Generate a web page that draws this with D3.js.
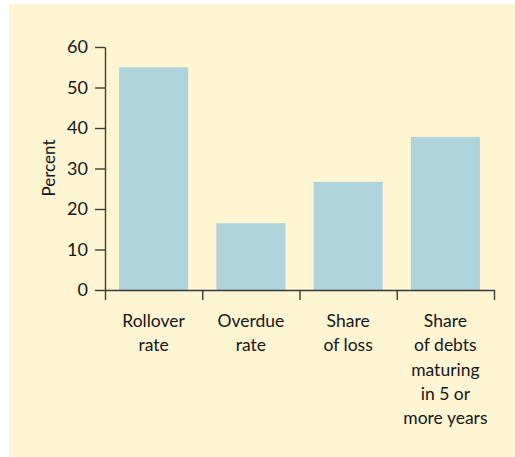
<!DOCTYPE html>
<html>
<head>
<meta charset="utf-8">
<script src="https://cdn.jsdelivr.net/npm/d3@7/dist/d3.min.js"></script>
<style>
  html, body { margin: 0; padding: 0; background: #ffffff; }
  svg { display: block; font-family: Lato, "Noto Sans", sans-serif; }
</style>
</head>
<body>
<div id="chart"></div>
<script>
// chart data
var categories = ['Rollover rate', 'Overdue rate', 'Share of loss', 'Share of debts maturing'];
var categoryLines = [
    ['Rollover', 'rate'],
    ['Overdue', 'rate'],
    ['Share', 'of loss'],
    ['Share', 'of debts', 'maturing', 'in 5 or', 'more years']
];
var values = [55, 16.5, 26.7, 37.8];
var yTicks = [0, 10, 20, 30, 40, 50, 60];

var width = 515, height = 457;
var axisColor = '#3a3a3a';
var textColor = '#161616';
var fontFamily = 'Lato, "Noto Sans", sans-serif';

// plot edges (note: "top" would clash with window.top)
var plotLeft = 105, plotRight = 494, plotTop = 47, plotBottom = 290;

var svg = d3.select('#chart')
    .append('svg')
    .attr('width', width)
    .attr('height', height);

// pale yellow panel
svg.append('rect')
    .attr('x', 9)
    .attr('y', 4)
    .attr('width', width - 9)
    .attr('height', height - 4)
    .style('fill', '#fef5d3');

var x = d3.scaleBand()
    .domain(categories)
    .range([plotLeft, plotRight])
    .paddingInner(0.29)
    .paddingOuter(0.145);

var y = d3.scaleLinear()
    .domain([0, 60])
    .range([plotBottom, plotTop]);

// boundary ticks between categories
var xEdges = d3.scaleLinear()
    .domain([0, categories.length])
    .range([plotLeft, plotRight]);

svg.selectAll('rect.bar')
    .data(values)
    .enter()
    .append('rect')
    .attr('class', 'bar')
    .attr('x', function(d, i) { return x(categories[i]); })
    .attr('y', function(d) { return y(d); })
    .attr('width', x.bandwidth())
    .attr('height', function(d) { return y(0) - y(d); })
    .style('fill', '#aed3da');

// y axis
var yAxis = svg.append('g')
    .attr('transform', 'translate(' + plotLeft + ',0)')
    .call(d3.axisLeft(y).tickValues(yTicks).tickSize(10).tickPadding(7).tickSizeOuter(0));

yAxis.attr('font-family', null).attr('font-size', null);
yAxis.selectAll('text')
    .style('font-family', fontFamily)
    .style('font-size', '18px')
    .style('fill', textColor);

// x axis with ticks on the category edges
svg.append('g')
    .attr('transform', 'translate(0,' + plotBottom + ')')
    .call(d3.axisBottom(xEdges).ticks(categories.length).tickSize(10).tickFormat('').tickSizeOuter(0));

svg.selectAll('.domain, .tick line')
    .style('stroke', axisColor)
    .style('stroke-width', 1.4);

// category labels, centred under each bar
var labels = svg.append('g')
    .attr('class', 'cat-labels')
    .selectAll('text')
    .data(categoryLines)
    .enter()
    .append('text')
    .attr('text-anchor', 'middle')
    .style('font-family', fontFamily)
    .style('font-size', '17.5px')
    .style('fill', textColor);

labels.selectAll('tspan')
    .data(function(d, i) {
        return d.map(function(line) { return { line: line, i: i }; });
    })
    .enter()
    .append('tspan')
    .attr('x', function(d) { return x(categories[d.i]) + x.bandwidth() / 2; })
    .attr('y', function(d, j) { return 327 + j * 24.3; })
    .text(function(d) { return d.line; });

// y axis title
svg.append('text')
    .attr('transform', 'translate(55,168) rotate(-90)')
    .attr('text-anchor', 'middle')
    .style('font-family', fontFamily)
    .style('font-size', '17px')
    .style('fill', textColor)
    .text('Percent');
</script>
</body>
</html>
